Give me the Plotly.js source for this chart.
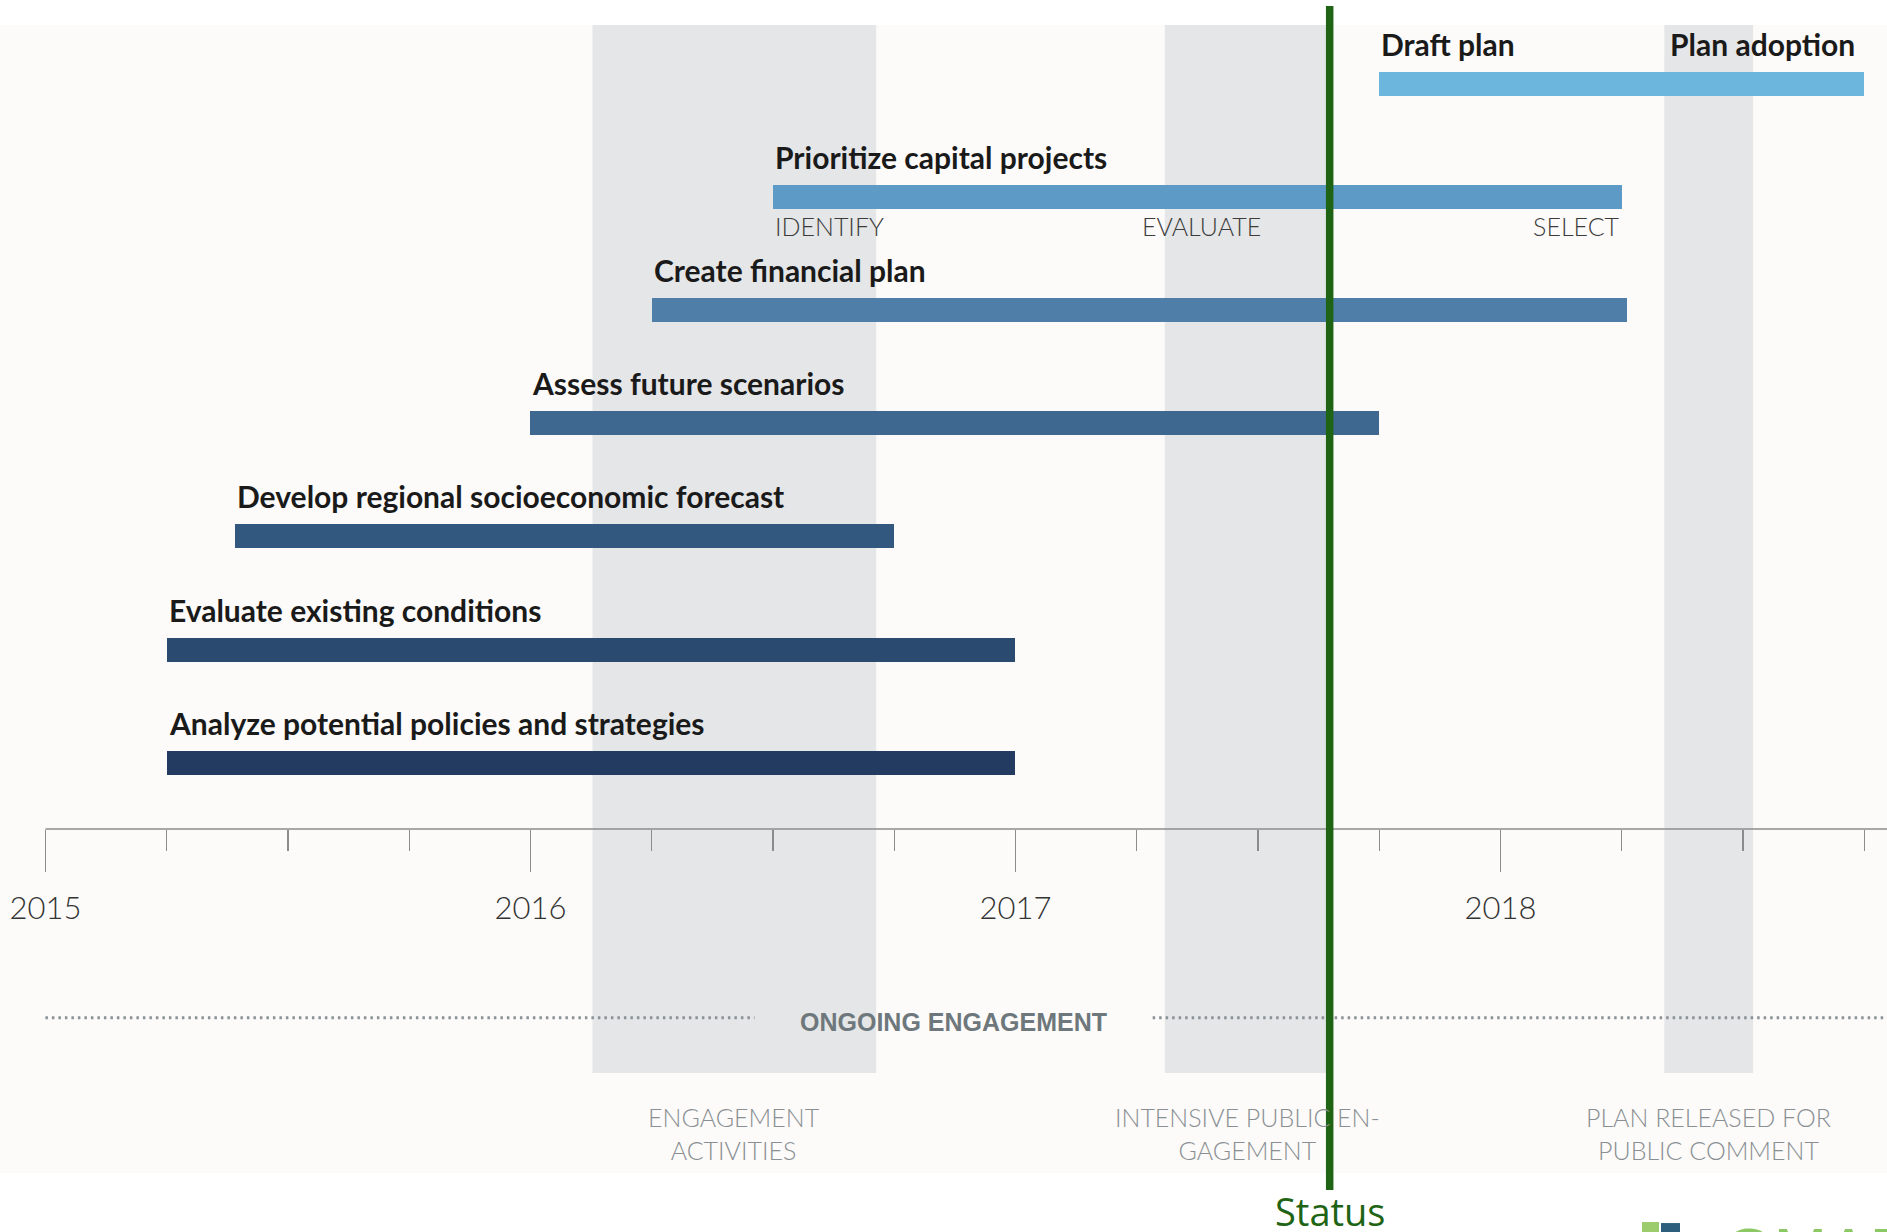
<!DOCTYPE html>
<html>
<head>
<meta charset="utf-8">
<script src="https://cdn.plot.ly/plotly-3.0.1.min.js"></script>
<style>
  html, body { margin: 0; padding: 0; background: #ffffff; }
  #chart { width: 1887px; height: 1232px; }
</style>
</head>
<body>
<div id="chart"></div>
<script>
// ---------------- DATA ----------------
const tasks = [
  'Analyze potential policies and strategies',
  'Evaluate existing conditions',
  'Develop regional socioeconomic forecast',
  'Assess future scenarios',
  'Create financial plan',
  'Prioritize capital projects',
  'Draft plan'
];
const startYear = [2015.25, 2015.25, 2015.39, 2016.0, 2016.25, 2016.5, 2017.75];
const endYear   = [2017.0, 2017.0, 2016.75, 2017.75, 2018.26, 2018.25, 2018.75];

const phaseLabels = ['IDENTIFY', 'EVALUATE', 'SELECT'];
const phaseYears  = [2016.5, 2017.383, 2018.25];

const milestoneLabel = 'Plan adoption';
const milestoneYear = 2018.75;

const engagementLabels = [
  'ENGAGEMENT<br>ACTIVITIES',
  'INTENSIVE PUBLIC EN-<br>GAGEMENT',
  'PLAN RELEASED FOR<br>PUBLIC COMMENT'
];
const engagementStart = [2016.128, 2017.308, 2018.338];
const engagementEnd   = [2016.713, 2017.650, 2018.521];

const ongoingLabel = 'ONGOING ENGAGEMENT';
const ongoingStart = 2015.0;
const ongoingGapStart = 2016.462;
const ongoingGapEnd = 2017.283;

const statusLabel = 'Status';
const statusDate = 2017.648;

const yearTicks = [2015, 2016, 2017, 2018];
const yearTickLabels = ['2015', '2016', '2017', '2018'];

const logoText = 'GMAP';

// ---------------- STYLE ----------------
const barColors = ['#233a61', '#2b4a70', '#33587f', '#3f6891', '#4f7fa9', '#5d9ac5', '#6cb6dd'];
const boldFont = "Lato, 'Liberation Sans', sans-serif";
const lightFont = "Lato, 'Liberation Sans', sans-serif";
const xRange = [2014.9064, 2018.7971];
const axisPos = 0.29965;

const durations = startYear.map((s, i) => endYear[i] - s);

const barTrace = {
  type: 'bar',
  orientation: 'h',
  y: tasks,
  x: durations,
  base: startYear,
  width: 0.212,
  marker: { color: barColors, line: { width: 0 } },
  hoverinfo: 'skip',
  showlegend: false
};

const labelFont = { family: boldFont, size: 30, color: '#1a1a1a', weight: 'bold' };
const annotations = [];
// task labels
tasks.forEach((t, i) => {
  annotations.push({
    x: startYear[i], y: t, xref: 'x', yref: 'y',
    text: t, showarrow: false, xanchor: 'left', yanchor: 'bottom', yshift: 20,
    font: labelFont
  });
});
// milestone
annotations.push({
  x: milestoneYear, y: tasks[6], xref: 'x', yref: 'y',
  text: milestoneLabel, showarrow: false, xanchor: 'right', yanchor: 'bottom', yshift: 20, xshift: -7,
  font: labelFont
});
// phases
const phaseAnchors = ['left', 'center', 'right'];
phaseLabels.forEach((p, i) => {
  annotations.push({
    x: phaseYears[i], y: tasks[5], xref: 'x', yref: 'y',
    text: p, showarrow: false, xanchor: phaseAnchors[i], yanchor: 'middle', yshift: -29,
    font: { family: lightFont, size: 25, color: '#3c3c3c', weight: 300 }
  });
});
// engagement labels
engagementLabels.forEach((l, i) => {
  annotations.push({
    x: (engagementStart[i] + engagementEnd[i]) / 2, y: 0.0348, xref: 'x', yref: 'paper',
    text: l, showarrow: false, xanchor: 'center', yanchor: 'middle', align: 'center',
    font: { family: lightFont, size: 25, color: '#8a8f93', weight: 300 }
  });
});
// ongoing engagement
annotations.push({
  x: (ongoingGapStart + ongoingGapEnd) / 2, y: 0.1316, xref: 'x', yref: 'paper',
  text: ongoingLabel, showarrow: false, xanchor: 'center', yanchor: 'middle',
  font: { family: "'Liberation Sans', Arial, sans-serif", size: 25, color: '#6e787c', weight: 'bold' }
});
// status
annotations.push({
  x: statusDate, y: -0.0335, xref: 'x', yref: 'paper',
  text: statusLabel, showarrow: false, xanchor: 'center', yanchor: 'middle',
  font: { family: "'Open Sans', 'Liberation Sans', sans-serif", size: 38, color: '#1e6414' }
});
// logo text (cut off at page edge, as in the original)
annotations.push({
  x: 1722 / 1887, y: -0.036, xref: 'paper', yref: 'paper',
  text: logoText, showarrow: false, xanchor: 'left', yanchor: 'top',
  font: { family: "'Liberation Sans', sans-serif", size: 64, color: '#8cc864' }
});

const shapes = [];
engagementStart.forEach((s, i) => {
  shapes.push({
    type: 'rect', xref: 'x', yref: 'paper', x0: s, x1: engagementEnd[i], y0: 0.0871, y1: 1,
    fillcolor: '#e5e6e7', line: { width: 0 }, layer: 'below'
  });
});
// axis line
shapes.push({
  type: 'line', xref: 'x', yref: 'paper', x0: yearTicks[0], x1: xRange[1], y0: axisPos, y1: axisPos,
  line: { color: '#8c8c8c', width: 1.3 }, layer: 'above'
});
// ongoing dotted lines
shapes.push({
  type: 'line', xref: 'x', yref: 'paper', x0: ongoingStart, x1: ongoingGapStart, y0: 0.1353, y1: 0.1353,
  line: { color: '#8a9296', width: 3, dash: '2.5px,4px' }, layer: 'above'
});
shapes.push({
  type: 'line', xref: 'x', yref: 'paper', x0: ongoingGapEnd, x1: xRange[1], y0: 0.1353, y1: 0.1353,
  line: { color: '#8a9296', width: 3, dash: '2.5px,4px' }, layer: 'above'
});
// status line
shapes.push({
  type: 'line', xref: 'x', yref: 'paper', x0: statusDate, x1: statusDate, y0: -0.0148, y1: 1.0166,
  line: { color: '#1e6414', width: 7.5 }, layer: 'above'
});
// logo squares
shapes.push({
  type: 'rect', xref: 'paper', yref: 'paper', x0: 1642 / 1887, x1: 1659 / 1887, y0: -0.08, y1: -0.0427,
  fillcolor: '#9ccc6c', line: { width: 0 }
});
shapes.push({
  type: 'rect', xref: 'paper', yref: 'paper', x0: 1661 / 1887, x1: 1680 / 1887, y0: -0.08, y1: -0.0436,
  fillcolor: '#2d5f7c', line: { width: 0 }
});

const layout = {
  width: 1887, height: 1232, autosize: false,
  margin: { l: 0, r: 0, t: 25, b: 59, pad: 0 },
  paper_bgcolor: '#ffffff',
  plot_bgcolor: '#fcfbf9',
  showlegend: false,
  bargap: 0,
  xaxis: {
    type: 'linear', range: xRange, anchor: 'free', position: axisPos,
    showgrid: false, zeroline: false, showline: false,
    tickmode: 'array', tickvals: yearTicks, ticktext: yearTickLabels,
    ticks: 'outside', ticklen: 42, tickwidth: 1.3, tickcolor: '#8c8c8c',
    ticklabelstandoff: 10,
    tickfont: { family: lightFont, size: 31, color: '#333333', weight: 300 },
    minor: { dtick: 0.25, tick0: 2015, ticks: 'outside', ticklen: 21, tickwidth: 1.3, tickcolor: '#8c8c8c', showgrid: false },
    fixedrange: true
  },
  yaxis: {
    type: 'category', categoryorder: 'array', categoryarray: tasks,
    range: [-3.625, 6.518],
    showgrid: false, zeroline: false, showline: false, showticklabels: false, ticks: '',
    fixedrange: true
  },
  annotations: annotations,
  shapes: shapes
};

Plotly.newPlot('chart', [barTrace], layout, { displayModeBar: false, staticPlot: true });
</script>
</body>
</html>
